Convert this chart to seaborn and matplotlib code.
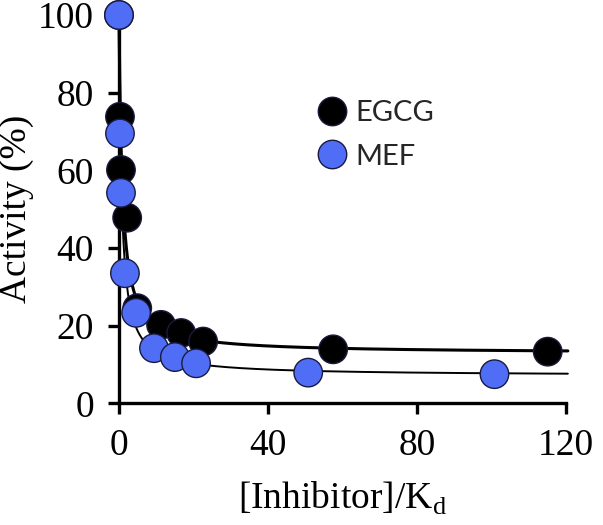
import numpy as np
import pandas as pd
import matplotlib
matplotlib.use("Agg")
import matplotlib.pyplot as plt
import seaborn as sns

# values
egcg_x = [0, 0.27, 0.54, 2.2, 4.9, 11.3, 16.7, 22.6, 57.5, 115.1]
egcg_y = [100, 73.8, 60.1, 47.8, 24.5, 20.2, 18.1, 15.9, 13.9, 13.3]
mef_x = [0, 0.27, 0.54, 1.6, 4.6, 9.4, 15.0, 20.7, 50.8, 100.8]
mef_y = [100, 69.5, 54.2, 33.5, 23.3, 14.2, 11.9, 10.3, 7.9, 7.5]
x_ticks = [0, 40, 80, 120]
y_ticks = [0, 20, 40, 60, 80, 100]

colors = {"EGCG": "black", "MEF": "#4f6ef5"}

df = pd.concat([
    pd.DataFrame({"x": egcg_x, "y": egcg_y, "inhibitor": "EGCG"}),
    pd.DataFrame({"x": mef_x, "y": mef_y, "inhibitor": "MEF"}),
], ignore_index=True)


def fit_curve(x, y):
    # hyperbolic inhibition y = b + (100 - b) / (1 + x/k), weighted by 1/y^2
    x = np.asarray(x, float)[None, :]
    y = np.asarray(y, float)[None, :]
    w = 1 / y ** 2
    k = np.logspace(-2, 1.5, 2000)[:, None]
    f = 1 / (1 + x / k)
    g = 1 - f
    b = np.sum(w * (y - 100 * f) * g, axis=1, keepdims=True) / np.sum(w * g * g, axis=1, keepdims=True)
    err = np.sum(w * (y - 100 * f - b * g) ** 2, axis=1)
    i = np.argmin(err)
    return k[i, 0], b[i, 0]


sns.set_style("ticks")
plt.rcParams["font.family"] = ["Liberation Serif", "DejaVu Serif"]

fig = plt.figure(figsize=(6.03, 5.25), dpi=100)
ax = fig.add_axes([0.1973, 0.2318, 0.7413, 0.7396])

xs = np.linspace(0, 120.5, 1200)
for name, lw in [("EGCG", 2.2), ("MEF", 1.4)]:
    sub = df[df.inhibitor == name]
    k, b = fit_curve(sub.x, sub.y)
    fit = pd.DataFrame({"x": xs, "y": b + (100 - b) / (1 + xs / k)})
    sns.lineplot(data=fit, x="x", y="y", color="black", lw=lw, ax=ax,
                 zorder=2, clip_on=False)

sns.scatterplot(data=df, x="x", y="y", hue="inhibitor", palette=colors,
                s=420, edgecolor="#1a1a40", linewidth=1.0, ax=ax,
                zorder=3, clip_on=False)

ax.set_xlim(0, 120)
ax.set_ylim(0, 100)
ax.set_xticks(x_ticks)
ax.set_yticks(y_ticks)
ax.tick_params(labelsize=27, width=2.4, length=8, pad=10, color="black",
               labelcolor="black")
sns.despine(ax=ax)
for s in ["left", "bottom"]:
    ax.spines[s].set_linewidth(2.4)
    ax.spines[s].set_color("black")

ax.set_xlabel("[Inhibitor]/K$_\\mathregular{d}$", fontsize=27, labelpad=12,
              color="black")
ax.set_ylabel("Activity (%)", fontsize=27, labelpad=3, color="black")

handles, labels = ax.get_legend_handles_labels()
leg = ax.legend(handles, labels, frameon=False, loc="center left",
                bbox_to_anchor=(0.521, 0.743), bbox_transform=fig.transFigure,
                prop={"family": "Lato", "size": 21}, handletextpad=0.2,
                labelspacing=0.6, borderpad=0, borderaxespad=0,
                handlelength=1.2, markerscale=1)

fig.savefig("out.png", dpi=100)
